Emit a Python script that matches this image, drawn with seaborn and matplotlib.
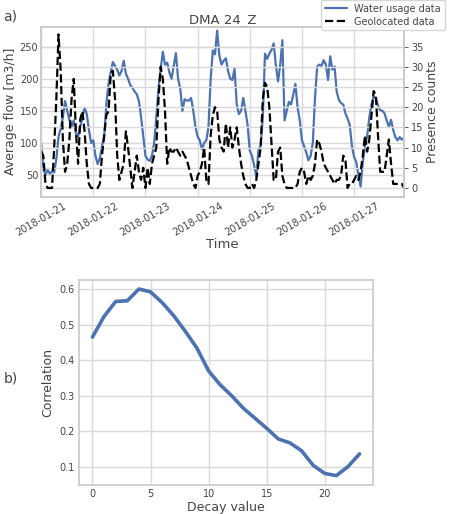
import pandas as pd
import matplotlib
matplotlib.use("Agg")
import matplotlib.pyplot as plt
import matplotlib.dates as mdates
import seaborn as sns

# --- DATA ---
start_time = "2018-01-21 00:00"

# hourly average flow [m3/h], one row per day
water_usage = [
    100, 60, 50, 58, 52, 56, 54, 75, 110, 122, 140, 165, 150, 136, 125, 135, 115, 110, 125, 140, 155, 145, 120, 100,
    104, 80, 67, 76, 95, 109, 160, 192, 210, 226, 220, 214, 205, 212, 228, 208, 200, 190, 186, 180, 176, 165, 140, 110,
    80, 74, 72, 80, 100, 140, 185, 215, 242, 222, 225, 210, 200, 220, 240, 200, 185, 150, 168, 166, 166, 170, 150, 125,
    110, 104, 90, 100, 104, 125, 200, 244, 238, 275, 236, 222, 228, 232, 212, 200, 198, 216, 160, 145, 150, 170, 150, 128,
    88, 80, 65, 47, 90, 95, 140, 239, 231, 239, 245, 255, 221, 196, 221, 260, 135, 150, 164, 160, 175, 192, 155, 135,
    104, 95, 85, 73, 80, 100, 170, 219, 222, 220, 229, 222, 198, 235, 214, 219, 180, 167, 162, 160, 146, 138, 128, 95,
    78, 70, 50, 32, 70, 95, 110, 140, 160, 172, 170, 158, 151, 150, 146, 135, 125, 136, 120, 109, 104, 109, 105, 108,
]

# hourly presence counts (geolocated data)
presence_counts = [
    9, 8, 1, 0, 0, 0, 10, 22, 38, 29, 12, 4, 6, 12, 22, 27, 14, 6, 17, 19, 14, 6, 1, 0,
    0, 0, 0, 1, 8, 13, 18, 19, 28, 29, 22, 8, 2, 4, 6, 14, 10, 5, 0, 4, 8, 4, 2, 5,
    0, 5, 1, 6, 8, 10, 22, 30, 27, 19, 6, 10, 9, 9, 10, 9, 8, 9, 8, 7, 5, 3, 1, 0,
    3, 4, 6, 10, 2, 1, 13, 18, 20, 19, 12, 10, 9, 16, 10, 15, 10, 12, 15, 10, 6, 3, 1, 0,
    0, 1, 0, 2, 6, 10, 22, 26, 25, 20, 11, 2, 2, 9, 10, 3, 1, 0, 0, 0, 0, 0, 1, 4,
    5, 4, 1, 3, 2, 3, 6, 12, 11, 9, 6, 5, 4, 3, 2, 1, 2, 2, 3, 8, 7, 0, 1, 1,
    2, 3, 2, 4, 8, 13, 9, 12, 18, 24, 23, 13, 4, 4, 4, 8, 12, 6, 1, 1, 1, 1, 1, 0,
]

decay_values = list(range(24))
correlation = [0.465, 0.523, 0.565, 0.567, 0.600, 0.592, 0.562, 0.525, 0.481, 0.434, 0.370, 0.331,
               0.300, 0.265, 0.237, 0.209, 0.179, 0.168, 0.146, 0.105, 0.082, 0.076, 0.101, 0.137]

times = pd.date_range(start_time, periods=len(water_usage), freq="h")
df = pd.DataFrame({"time": times, "flow": water_usage, "count": presence_counts})
df_decay = pd.DataFrame({"decay": decay_values, "corr": correlation})

# --- STYLE ---
sns.set_theme(style="whitegrid")
plt.rcParams["font.family"] = ["DejaVu Sans"]
text_col = "#444444"
blue = "#4c72b0"

fig = plt.figure(figsize=(4.52, 5.14), dpi=100)

# --- a) flow vs presence ---
ax = fig.add_axes([0.091, 0.617, 0.803, 0.331])
sns.lineplot(data=df, x="time", y="flow", ax=ax, color=blue, linewidth=1.6, label="Water usage data", legend=False)
ax.set_xlim(times[0], times[-1])
ax.set_ylim(16, 281)
ax.set_yticks([50, 100, 150, 200, 250])
ax.set_ylabel("Average flow [m3/h]", fontsize=9, color=text_col, labelpad=2)
ax.set_xlabel("Time", fontsize=9.5, color=text_col, labelpad=0)
ax.set_title("DMA 24_Z", fontsize=9.5, color=text_col, pad=3)
ax.xaxis.set_major_locator(mdates.DayLocator())
ax.xaxis.set_major_formatter(mdates.DateFormatter("%Y-%m-%d"))
ax.tick_params(axis="x", labelsize=7, colors=text_col, rotation=30, length=0, pad=3)
ax.tick_params(axis="y", labelsize=7, colors=text_col, length=0, pad=2)

ax2 = ax.twinx()
sns.lineplot(data=df, x="time", y="count", ax=ax2, color="black", linewidth=1.6,
             linestyle="--", label="Geolocated data", legend=False)
ax2.set_ylim(-2.2, 39.9)
ax2.set_yticks(range(0, 40, 5))
ax2.set_ylabel("Presence counts", fontsize=9, color=text_col, labelpad=2)
ax2.tick_params(axis="y", labelsize=7, colors=text_col, length=3, width=0.6, pad=2)
ax2.grid(True, color=".85")
ax.grid(True, color=".85")
ax2.set_xlim(times[0], times[-1])

handles = ax.get_lines()[:1] + ax2.get_lines()[:1]
fig.legend(handles, ["Water usage data", "Geolocated data"], loc="upper right",
           bbox_to_anchor=(0.995, 1.01), fontsize=7, frameon=True, labelcolor=text_col,
           handlelength=2.2, borderpad=0.4, labelspacing=0.3)

fig.text(0.008, 0.968, "a)", fontsize=10, color=text_col, va="center")

# --- b) correlation vs decay ---
bx = fig.add_axes([0.175, 0.056, 0.650, 0.399])
sns.lineplot(data=df_decay, x="decay", y="corr", ax=bx, color=blue, linewidth=2.6)
bx.set_xticks([0, 5, 10, 15, 20])
bx.set_yticks([0.1, 0.2, 0.3, 0.4, 0.5, 0.6])
bx.set_ylim(0.049, 0.625)
bx.set_xlabel("Decay value", fontsize=9, color=text_col, labelpad=1)
bx.set_ylabel("Correlation", fontsize=9, color=text_col, labelpad=4)
bx.tick_params(labelsize=7, colors=text_col, length=0, pad=3)
bx.grid(True, color=".85")

fig.text(0.008, 0.263, "b)", fontsize=10, color=text_col, va="center")

plt.savefig("out.png", dpi=100)
